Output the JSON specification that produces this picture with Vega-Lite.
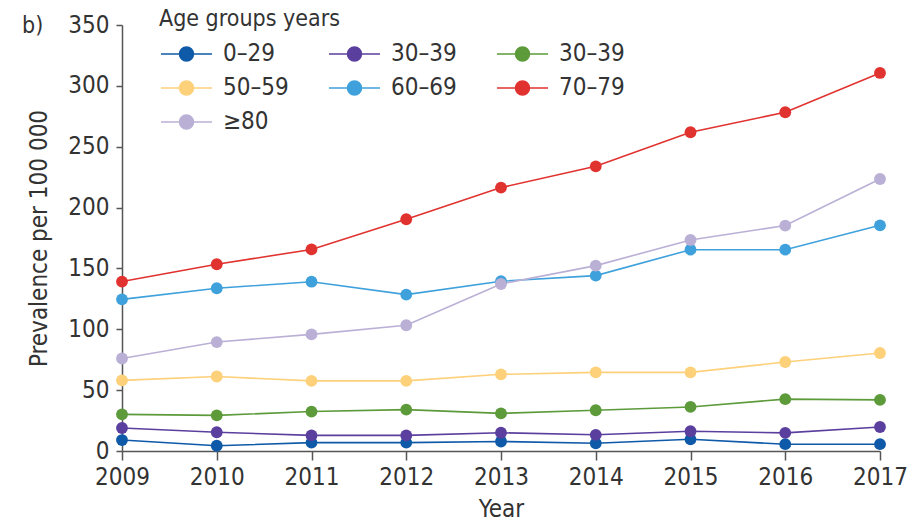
{
  "$schema": "https://vega.github.io/schema/vega-lite/v6.json",
  "width": 758,
  "height": 426,
  "autosize": {"type": "none"},
  "padding": {"left": 122, "top": 25, "right": 43, "bottom": 77},
  "background": "white",
  "title": {"text": "b)", "anchor": "start", "frame": "group", "dx": -100, "dy": 34, "fontSize": 23, "fontWeight": "normal", "font": "DejaVu Sans Condensed, sans-serif", "color": "#333333"},
  "config": {
    "view": {"stroke": null},
    "font": "DejaVu Sans Condensed, sans-serif",
    "axis": {"labelFont": "DejaVu Sans Condensed, sans-serif", "titleFont": "DejaVu Sans Condensed, sans-serif", "labelColor": "#333333", "titleColor": "#333333", "domainColor": "#555555", "tickColor": "#555555", "domainWidth": 1.5, "tickWidth": 1.5, "grid": false, "labelFontSize": 24, "titleFontSize": 24, "titleFontWeight": "normal"}
  },
  "data": {"values": [
    {"year": 2009, "group": " 0–29", "value": 9.0},
    {"year": 2010, "group": " 0–29", "value": 4.3},
    {"year": 2011, "group": " 0–29", "value": 6.9},
    {"year": 2012, "group": " 0–29", "value": 6.9},
    {"year": 2013, "group": " 0–29", "value": 7.8},
    {"year": 2014, "group": " 0–29", "value": 6.4},
    {"year": 2015, "group": " 0–29", "value": 9.6},
    {"year": 2016, "group": " 0–29", "value": 5.6},
    {"year": 2017, "group": " 0–29", "value": 5.6},
    {"year": 2009, "group": "30–39", "value": 18.9},
    {"year": 2010, "group": "30–39", "value": 15.4},
    {"year": 2011, "group": "30–39", "value": 12.8},
    {"year": 2012, "group": "30–39", "value": 12.8},
    {"year": 2013, "group": "30–39", "value": 15.0},
    {"year": 2014, "group": "30–39", "value": 13.3},
    {"year": 2015, "group": "30–39", "value": 16.2},
    {"year": 2016, "group": "30–39", "value": 14.9},
    {"year": 2017, "group": "30–39", "value": 19.7},
    {"year": 2009, "group": "30–39 ", "value": 30.1},
    {"year": 2010, "group": "30–39 ", "value": 29.3},
    {"year": 2011, "group": "30–39 ", "value": 32.4},
    {"year": 2012, "group": "30–39 ", "value": 34.0},
    {"year": 2013, "group": "30–39 ", "value": 30.9},
    {"year": 2014, "group": "30–39 ", "value": 33.5},
    {"year": 2015, "group": "30–39 ", "value": 36.2},
    {"year": 2016, "group": "30–39 ", "value": 42.6},
    {"year": 2017, "group": "30–39 ", "value": 42.0},
    {"year": 2009, "group": "50–59", "value": 58.0},
    {"year": 2010, "group": "50–59", "value": 61.2},
    {"year": 2011, "group": "50–59", "value": 57.6},
    {"year": 2012, "group": "50–59", "value": 57.6},
    {"year": 2013, "group": "50–59", "value": 63.0},
    {"year": 2014, "group": "50–59", "value": 64.6},
    {"year": 2015, "group": "50–59", "value": 64.6},
    {"year": 2016, "group": "50–59", "value": 73.1},
    {"year": 2017, "group": "50–59", "value": 80.5},
    {"year": 2009, "group": "60–69", "value": 124.6},
    {"year": 2010, "group": "60–69", "value": 133.7},
    {"year": 2011, "group": "60–69", "value": 139.1},
    {"year": 2012, "group": "60–69", "value": 128.5},
    {"year": 2013, "group": "60–69", "value": 139.5},
    {"year": 2014, "group": "60–69", "value": 144.1},
    {"year": 2015, "group": "60–69", "value": 165.4},
    {"year": 2016, "group": "60–69", "value": 165.4},
    {"year": 2017, "group": "60–69", "value": 185.4},
    {"year": 2009, "group": "70–79", "value": 139.2},
    {"year": 2010, "group": "70–79", "value": 153.4},
    {"year": 2011, "group": "70–79", "value": 165.6},
    {"year": 2012, "group": "70–79", "value": 190.4},
    {"year": 2013, "group": "70–79", "value": 216.4},
    {"year": 2014, "group": "70–79", "value": 233.9},
    {"year": 2015, "group": "70–79", "value": 261.9},
    {"year": 2016, "group": "70–79", "value": 278.3},
    {"year": 2017, "group": "70–79", "value": 310.6},
    {"year": 2009, "group": "≥80", "value": 76.0},
    {"year": 2010, "group": "≥80", "value": 89.5},
    {"year": 2011, "group": "≥80", "value": 95.8},
    {"year": 2012, "group": "≥80", "value": 103.3},
    {"year": 2013, "group": "≥80", "value": 137.2},
    {"year": 2014, "group": "≥80", "value": 152.3},
    {"year": 2015, "group": "≥80", "value": 173.4},
    {"year": 2016, "group": "≥80", "value": 185.2},
    {"year": 2017, "group": "≥80", "value": 223.5}
  ]},
  "encoding": {
    "x": {"field": "year", "type": "quantitative", "scale": {"domain": [2009, 2017], "nice": false, "zero": false},
      "axis": {"values": [2009, 2010, 2011, 2012, 2013, 2014, 2015, 2016, 2017], "format": "d", "title": "Year", "tickSize": 9, "labelPadding": 5, "titlePadding": 8, "labelFlush": false}},
    "y": {"field": "value", "type": "quantitative", "scale": {"domain": [0, 350], "nice": false},
      "axis": {"values": [0, 50, 100, 150, 200, 250, 300, 350], "title": "Prevalence per 100 000", "tickSize": 6, "labelPadding": 7, "titlePadding": 16}},
    "color": {"field": "group", "type": "nominal",
      "scale": {"domain": [" 0–29", "30–39", "30–39 ", "50–59", "60–69", "70–79", "≥80"], "range": ["#0f5aa8", "#5b3f9e", "#5c9a3a", "#fdd07a", "#3fa1dc", "#e0322f", "#bab0d6"]},
      "legend": {"orient": "none", "direction": "horizontal", "legendX": 37, "legendY": -17, "columns": 3, "title": "Age groups years", "titleLimit": 500, "labelLimit": 300, "titleFontSize": 23, "titleFontWeight": "normal", "titleColor": "#333333", "titlePadding": 11, "labelFontSize": 24, "labelColor": "#333333", "labelOffset": 40, "columnPadding": 37, "rowPadding": 10, "symbolSize": 400, "symbolType": "M-1,0L4.1,0M0.85,0A0.7,0.7 0 1,0 2.25,0A0.7,0.7 0 1,0 0.85,0Z", "symbolStrokeWidth": 1.5,
        "encode": {"symbols": {"update": {"fill": {"scale": "color", "field": "value"}, "stroke": {"scale": "color", "field": "value"}, "strokeWidth": {"value": 1.5}, "opacity": {"value": 1}}}}}
    }
  },
  "layer": [
    {"mark": {"type": "line", "strokeWidth": 1.6}},
    {"mark": {"type": "point", "filled": true, "size": 140, "opacity": 1}}
  ]
}
